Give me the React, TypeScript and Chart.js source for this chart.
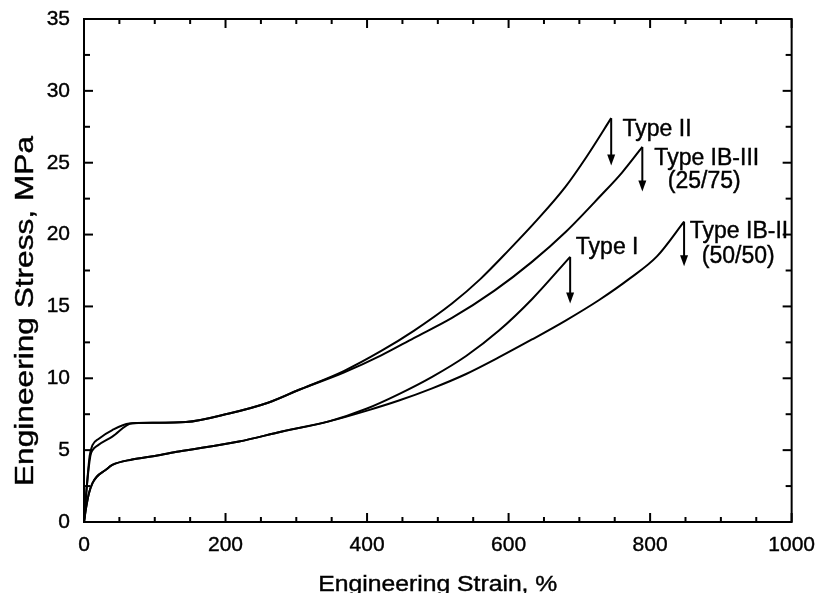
import React, { useEffect, useRef } from "react";
import { Chart, registerables } from "chart.js";

Chart.register(...registerables);

const FONT = '"Liberation Sans", Arial, Helvetica, sans-serif';

// ---- Series data: engineering strain (%) and engineering stress (MPa) ----
const typeIIStrain = [0, 4, 8, 12, 21, 40, 64, 100, 144, 205, 260, 304, 367, 420, 466, 520, 560, 600, 640, 680, 710, 745];
const typeIIStress = [0, 2.5, 4.6, 5.35, 5.8, 6.4, 6.85, 6.9, 6.95, 7.55, 8.3, 9.2, 10.5, 11.9, 13.3, 15.2, 16.9, 18.9, 21.0, 23.3, 25.4, 28.1];

const typeIBIIIStrain = [0, 4, 9, 12, 20, 40, 68, 100, 144, 205, 260, 304, 367, 420, 466, 520, 580, 633, 681, 730, 760, 789];
const typeIBIIIStress = [0, 2.5, 4.6, 5.0, 5.35, 5.94, 6.87, 6.9, 6.95, 7.55, 8.3, 9.2, 10.4, 11.6, 12.8, 14.2, 16.1, 18.1, 20.2, 22.7, 24.3, 26.1];

const typeIStrain = [0, 3, 7, 12, 18, 30, 40, 68, 100, 134, 219, 280, 346, 400, 445, 492, 540, 586, 633, 687];
const typeIStress = [0, 1.0, 2.0, 2.7, 3.15, 3.6, 3.97, 4.35, 4.6, 4.9, 5.6, 6.3, 7.0, 7.9, 8.9, 10.1, 11.55, 13.3, 15.5, 18.45];

const typeIBIIStrain = [0, 3, 7, 12, 18, 30, 40, 68, 100, 134, 219, 280, 346, 400, 445, 492, 540, 586, 633, 680, 728, 770, 810, 848];
const typeIBIIStress = [0, 1.0, 2.0, 2.7, 3.15, 3.6, 3.97, 4.35, 4.6, 4.9, 5.6, 6.3, 7.0, 7.75, 8.45, 9.3, 10.3, 11.45, 12.7, 14.0, 15.45, 16.9, 18.5, 20.9];

// ---- Failure arrows (strain at break, stress at break, arrow tip stress) ----
const arrowStrain = [745, 789, 687, 848];
const arrowFrom = [28.1, 26.1, 18.45, 20.9];
const arrowTo = [24.8, 23.0, 15.2, 17.8];

// ---- Curve labels ----
const labelText = ["Type II", "Type IB-III", "(25/75)", "Type I", "Type IB-II", "(50/50)"];
const labelStrain = [761, 806, 825, 695, 856, 873];
const labelStress = [27.3, 25.3, 23.66, 19.1, 20.2, 18.44];

// ---- Axes ----
const xMin = 0, xMax = 1000, xMajor = 200, xMinor = 50;
const yMin = 0, yMax = 35, yMajor = 5, yMinor = 2.5;
const xTitle = "Engineering Strain, %";
const yTitle = "Engineering Stress, MPa";

const toPoints = (xs: number[], ys: number[]) => xs.map((x, i) => ({ x, y: ys[i] }));

// draw text horizontally stretched to a target length (scanned glyphs are wide)
const drawStretched = (ctx: CanvasRenderingContext2D, text: string, x: number, y: number, target: number) => {
  const w = ctx.measureText(text).width;
  const sx = target / w;
  ctx.save();
  ctx.translate(x, y);
  ctx.scale(sx, 1);
  ctx.fillText(text, 0, 0);
  ctx.lineWidth = 0.4;
  ctx.strokeText(text, 0, 0);
  ctx.restore();
};

const framePlugin = {
  id: "framePlugin",
  afterDatasetsDraw(chart: any) {
    const { ctx, chartArea, scales } = chart;
    const { left, right, top, bottom } = chartArea;
    const xs = scales.x;
    const ys = scales.y;
    ctx.save();
    ctx.strokeStyle = "#000";
    ctx.fillStyle = "#000";
    ctx.lineWidth = 2;
    ctx.strokeRect(left, top, right - left, bottom - top);

    const seg = (x1: number, y1: number, x2: number, y2: number) => {
      ctx.beginPath();
      ctx.moveTo(x1, y1);
      ctx.lineTo(x2, y2);
      ctx.stroke();
    };

    for (let v = xMin; v <= xMax + 1e-9; v += xMinor) {
      const px = xs.getPixelForValue(v);
      const len = Math.abs(v % xMajor) < 1e-9 ? 9 : 5;
      seg(px, bottom, px, bottom - len);
      seg(px, top, px, top + len);
    }
    for (let v = yMin; v <= yMax + 1e-9; v += yMinor) {
      const py = ys.getPixelForValue(v);
      const len = Math.abs(v % yMajor) < 1e-9 ? 9 : 6;
      seg(left, py, left + len, py);
      seg(right, py, right - len, py);
    }

    // arrows
    arrowStrain.forEach((s, i) => {
      const px = xs.getPixelForValue(s);
      const p1 = ys.getPixelForValue(arrowFrom[i]);
      const p2 = ys.getPixelForValue(arrowTo[i]);
      seg(px, p1, px, p2 - 8);
      ctx.beginPath();
      ctx.moveTo(px - 4, p2 - 11);
      ctx.lineTo(px + 4, p2 - 11);
      ctx.lineTo(px, p2);
      ctx.closePath();
      ctx.fill();
    });

    // labels
    ctx.font = `23px ${FONT}`;
    ctx.textAlign = "left";
    ctx.textBaseline = "middle";
    ctx.lineWidth = 0.4;
    labelText.forEach((t, i) => {
      const lx = xs.getPixelForValue(labelStrain[i]);
      const ly = ys.getPixelForValue(labelStress[i]);
      ctx.fillText(t, lx, ly);
      ctx.strokeText(t, lx, ly);
    });

    // axis titles
    ctx.textAlign = "left";
    ctx.textBaseline = "alphabetic";
    ctx.font = `22px ${FONT}`;
    drawStretched(ctx, xTitle, (left + right) / 2 - 119.5, 591, 239);

    ctx.save();
    ctx.translate(33, 311);
    ctx.rotate(-Math.PI / 2);
    ctx.font = `26px ${FONT}`;
    drawStretched(ctx, yTitle, -175, 0, 350);
    ctx.restore();

    ctx.restore();
  },
};

export default function App() {
  const ref = useRef<HTMLCanvasElement | null>(null);

  useEffect(() => {
    if (!ref.current) return;
    const line = (xs: number[], ys: number[]) => ({
      data: toPoints(xs, ys),
      borderColor: "#000",
      borderWidth: 2,
      pointRadius: 0,
      fill: false,
      cubicInterpolationMode: "monotone" as const,
    });
    const chart = new Chart(ref.current, {
      type: "line",
      data: {
        datasets: [
          { label: "Type II", ...line(typeIIStrain, typeIIStress) },
          { label: "Type IB-III (25/75)", ...line(typeIBIIIStrain, typeIBIIIStress) },
          { label: "Type I", ...line(typeIStrain, typeIStress) },
          { label: "Type IB-II (50/50)", ...line(typeIBIIStrain, typeIBIIStress) },
        ],
      },
      options: {
        animation: false,
        responsive: false,
        maintainAspectRatio: false,
        layout: { padding: { top: 19, right: 26, left: 0, bottom: 0 } },
        plugins: { legend: { display: false }, tooltip: { enabled: false } },
        scales: {
          x: {
            type: "linear",
            min: xMin,
            max: xMax,
            afterFit: (s: any) => {
              s.height = 71;
            },
            grid: { display: false },
            border: { display: false },
            ticks: {
              stepSize: xMajor,
              padding: 3,
              color: "#000",
              maxRotation: 0,
              font: { size: 21, family: FONT },
              textStrokeColor: "#000",
              textStrokeWidth: 0.4,
              callback: (v: any) => String(v),
            },
          },
          y: {
            type: "linear",
            min: yMin,
            max: yMax,
            afterFit: (s: any) => {
              s.width = 84;
            },
            grid: { display: false },
            border: { display: false },
            ticks: {
              stepSize: yMajor,
              padding: 6,
              color: "#000",
              font: { size: 21, family: FONT },
              textStrokeColor: "#000",
              textStrokeWidth: 0.4,
              callback: (v: any) => String(v),
            },
          },
        },
      },
      plugins: [framePlugin],
    });
    return () => chart.destroy();
  }, []);

  return (
    <div style={{ position: "fixed", left: 0, top: 0, width: 818, height: 593, background: "#fff" }}>
      <canvas ref={ref} width={818} height={593} style={{ display: "block" }} />
    </div>
  );
}
